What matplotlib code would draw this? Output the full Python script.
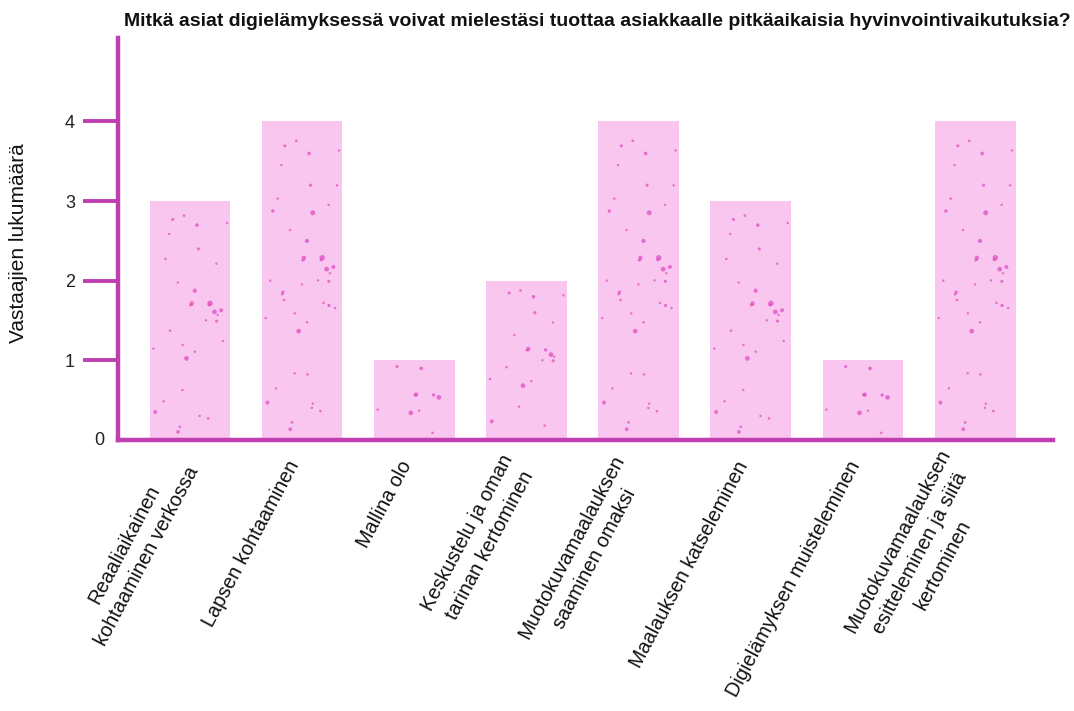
import numpy as np
import matplotlib
matplotlib.use("Agg")
import matplotlib.pyplot as plt
import matplotlib.transforms as mtransforms

# survey answers: how many respondents picked each item
categories = [
    "Reaaliaikainen\nkohtaaminen verkossa",
    "Lapsen kohtaaminen",
    "Mallina olo",
    "Keskustelu ja oman\ntarinan kertominen",
    "Muotokuvamaalauksen\nsaaminen omaksi",
    "Maalauksen katseleminen",
    "Digielämyksen muisteleminen",
    "Muotokuvamaalauksen\nesitteleminen ja siitä\nkertominen",
]
counts = [3, 4, 1, 2, 4, 3, 1, 4]
yticks = [1, 2, 3, 4]

title = ("Mitkä asiat digielämyksessä voivat mielestäsi tuottaa asiakkaalle "
         "pitkäaikaisia hyvinvointivaikutuksia?")
ylabel = "Vastaajien lukumäärä"

AXIS = "#c03fb0"
FILL = "#f8c6ee"
DOT = "#e050c2"

plt.rcParams["font.family"] = ["Liberation Sans", "DejaVu Sans"]


def hash01(k, seed):
    # cheap deterministic scatter for the paper-grain speckles
    v = np.sin(k * 12.9898 + seed * 78.233) * 43758.5453
    return v - np.floor(v)


fig = plt.figure(figsize=(10.74, 7.11), dpi=100)
ax = fig.add_axes([0.110, 0.381, 0.870, 0.566])

x = np.arange(len(categories))
bars = ax.bar(x, counts, width=0.72, color=FILL, linewidth=0, zorder=2)

# speckled texture inside each bar
k = np.arange(1, 60).astype(float)
for b in bars:
    x0, w, hgt = b.get_x(), b.get_width(), b.get_height()
    kk = k[:int(11 * hgt)]
    px = x0 + w * (0.03 + 0.94 * hash01(kk, 1.0))
    py = hgt * (0.02 + 0.96 * hash01(kk, 2.0))
    sz = 3 + 13 * hash01(kk, 3.0) ** 4
    ax.scatter(px, py, s=sz, color=DOT, alpha=0.75, linewidths=0,
               zorder=3, clip_path=b, clip_on=True)

ax.set_xlim(-0.64, 7.69)
ax.set_ylim(0, 5.05)

for side in ("top", "right"):
    ax.spines[side].set_visible(False)
for side in ("left", "bottom"):
    ax.spines[side].set_color(AXIS)
    ax.spines[side].set_linewidth(3.2)
    ax.spines[side].set_zorder(4)

ax.set_yticks(yticks)
ax.set_yticklabels([str(v) for v in yticks])
ax.tick_params(axis="y", length=25, width=2.8, color=AXIS, pad=6,
               labelsize=13, labelcolor="#222222")
ax.text(-0.015, 0, "0",
        transform=mtransforms.blended_transform_factory(ax.transAxes, ax.transData),
        ha="right", va="center", fontsize=13, color="#222222")

ax.set_xticks(x)
ax.set_xticklabels(categories, rotation=62, ha="right", va="center",
                   rotation_mode="anchor", multialignment="center",
                   linespacing=1.45, fontsize=14.3, color="#111111")
ax.tick_params(axis="x", length=0, pad=16)
shift = mtransforms.ScaledTranslation(-0.07, 0, fig.dpi_scale_trans)
for lbl in ax.get_xticklabels():
    lbl.set_transform(lbl.get_transform() + shift)

ax.set_ylabel(ylabel, fontsize=15, color="#111111")
ax.yaxis.set_label_coords(-0.096, 0.49)
fig.text(0.115, 0.97, title, fontsize=14.0, fontweight="bold",
         color="#111111", ha="left", va="center")

fig.savefig("out.png", dpi=100)
